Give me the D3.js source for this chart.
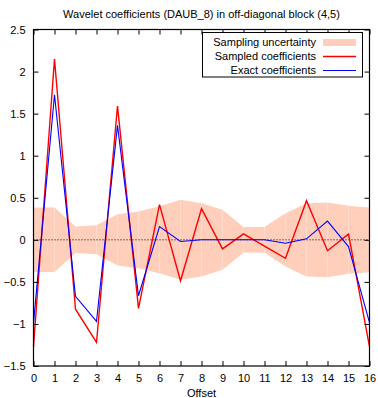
<!DOCTYPE html>
<html>
<head>
<meta charset="utf-8">
<script src="https://cdn.jsdelivr.net/npm/d3@7"></script>
<style>
  body { margin: 0; background: #fff; }
  svg text { font-family: "Liberation Sans", Arial, sans-serif; font-size: 11px; fill: #000; }
</style>
</head>
<body>
<div id="chart"></div>
<script>
// Offsets 0..16
const offsets = [0, 1, 2, 3, 4, 5, 6, 7, 8, 9, 10, 11, 12, 13, 14, 15, 16];
// half-width of the sampling uncertainty band
const uncertainty = [0.384, 0.384, 0.158, 0.172, 0.305, 0.337, 0.398, 0.476, 0.436, 0.357, 0.152, 0.152, 0.317, 0.436, 0.444, 0.404, 0.385];
const sampled = [-1.27, 2.15, -0.825, -1.22, 1.59, -0.815, 0.418, -0.49, 0.37, -0.108, 0.071, -0.075, -0.22, 0.465, -0.13, 0.068, -1.27];
const exact = [-0.99, 1.725, -0.672, -0.97, 1.36, -0.665, 0.158, -0.02, 0.0, 0.0, 0.0, 0.0, -0.04, 0.012, 0.222, -0.08, -0.985];
const yTicks = [-1.5, -1, -0.5, 0, 0.5, 1, 1.5, 2, 2.5];
const xTicks = d3.range(0, 17);
const legendItems = ["Sampling uncertainty", "Sampled coefficients", "Exact coefficients"];

const width = 378, height = 398;
const margin = { top: 29.5, right: 8.5, bottom: 32, left: 33.5 };

const svg = d3.select("#chart").append("svg")
  .attr("width", width)
  .attr("height", height);

const x = d3.scaleLinear().domain([0, 16]).range([margin.left, width - margin.right]);
const y = d3.scaleLinear().domain([-1.5, 2.5]).range([height - margin.bottom, margin.top]);

// Uncertainty band, drawn segment by segment (leaves faint seams like the original)
const bandColor = "#ffcfbc";
const band = d3.area()
  .x(d => x(d.x))
  .y0(d => y(-d.u))
  .y1(d => y(d.u));
const bandGroup = svg.append("g");
for (let i = 0; i < offsets.length - 1; i++) {
  bandGroup.append("path")
    .datum([{ x: offsets[i], u: uncertainty[i] }, { x: offsets[i + 1], u: uncertainty[i + 1] }])
    .attr("d", band)
    .style("fill", bandColor);
}

// Zero line
svg.append("line")
  .attr("x1", x(0)).attr("x2", x(16))
  .attr("y1", y(0)).attr("y2", y(0))
  .style("stroke", "#000")
  .style("stroke-width", 1)
  .style("stroke-dasharray", "1,2");

const line = d3.line().x((d, i) => x(offsets[i])).y(d => y(d));

svg.append("path")
  .datum(sampled)
  .attr("d", line)
  .style("fill", "none")
  .style("stroke", "#ff0000")
  .style("stroke-width", 1.4);

svg.append("path")
  .datum(exact)
  .attr("d", line)
  .style("fill", "none")
  .style("stroke", "#0000ff")
  .style("stroke-width", 1.1);

// Axes: ticks inside, mirrored
const tickLen = 5;
const axisGroup = svg.append("g");

axisGroup.append("g")
  .attr("transform", `translate(${margin.left},0)`)
  .call(d3.axisLeft(y).tickValues(yTicks).tickSizeInner(-tickLen).tickSizeOuter(0).tickPadding(tickLen + 3).tickFormat(d3.format("")));

axisGroup.append("g")
  .attr("transform", `translate(${width - margin.right},0)`)
  .call(d3.axisRight(y).tickValues(yTicks).tickSizeInner(-tickLen).tickSizeOuter(0).tickFormat(""));

axisGroup.append("g")
  .attr("transform", `translate(0,${height - margin.bottom})`)
  .call(d3.axisBottom(x).tickValues(xTicks).tickSizeInner(-tickLen).tickSizeOuter(0).tickPadding(tickLen + 3).tickFormat(d3.format("d")));

axisGroup.append("g")
  .attr("transform", `translate(0,${margin.top})`)
  .call(d3.axisTop(x).tickValues(xTicks).tickSizeInner(-tickLen).tickSizeOuter(0).tickFormat(""));

axisGroup.selectAll(".domain").remove();
axisGroup.selectAll("line").style("stroke", "#000");
axisGroup.selectAll("text").style("font-size", "11px").style("font-family", "Liberation Sans, Arial, sans-serif");

// Frame
svg.append("rect")
  .attr("x", margin.left).attr("y", margin.top)
  .attr("width", width - margin.left - margin.right)
  .attr("height", height - margin.top - margin.bottom)
  .style("fill", "none")
  .style("stroke", "#000")
  .style("stroke-width", 1.2);

// Title and axis label
svg.append("text")
  .attr("x", (margin.left + width - margin.right) / 2)
  .attr("y", 18)
  .style("text-anchor", "middle")
  .text("Wavelet coefficients (DAUB_8) in off-diagonal block (4,5)");

svg.append("text")
  .attr("x", (margin.left + width - margin.right) / 2)
  .attr("y", 397)
  .style("text-anchor", "middle")
  .text("Offset");

// Legend
const legend = svg.append("g");
legend.append("rect")
  .attr("x", 202.5).attr("y", 32.5)
  .attr("width", 160).attr("height", 44.5)
  .style("fill", "#fff")
  .style("stroke", "#000")
  .style("stroke-width", 1);

const rowY = [42.5, 56.5, 70.5];
legend.selectAll(".legend-text")
  .data(legendItems)
  .enter().append("text")
  .attr("class", "legend-text")
  .attr("x", 316)
  .attr("y", (d, i) => rowY[i])
  .attr("dy", "0.35em")
  .style("text-anchor", "end")
  .text(d => d);

legend.append("rect")
  .attr("x", 323).attr("y", rowY[0] - 3.5)
  .attr("width", 33).attr("height", 7)
  .style("fill", bandColor);

legend.append("line")
  .attr("x1", 323).attr("x2", 356)
  .attr("y1", rowY[1]).attr("y2", rowY[1])
  .style("stroke", "#ff0000").style("stroke-width", 1.4);

legend.append("line")
  .attr("x1", 323).attr("x2", 356)
  .attr("y1", rowY[2]).attr("y2", rowY[2])
  .style("stroke", "#0000ff").style("stroke-width", 1.1);
</script>
</body>
</html>
